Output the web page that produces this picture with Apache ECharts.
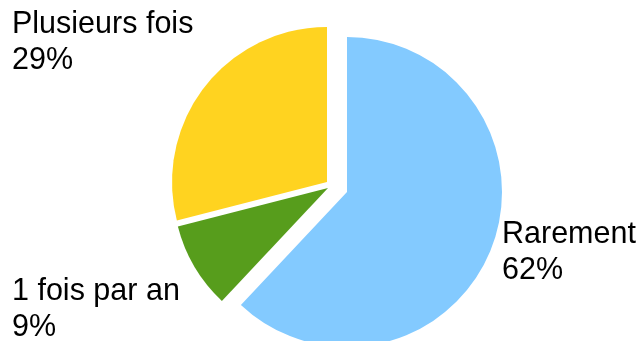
<!DOCTYPE html>
<html>
<head>
<meta charset="utf-8">
<script src="https://cdn.jsdelivr.net/npm/echarts@6/dist/echarts.min.js"></script>
<style>
  html, body { margin: 0; padding: 0; background: #fff; }
  #chart { width: 641px; height: 341px; }
</style>
</head>
<body>
<div id="chart"></div>
<script>
// clockwise from 12 o'clock
const categories = ['Rarement', '1 fois par an', 'Plusieurs fois'];
const values = [62, 9, 29];
const colors = ['#83CAFF', '#579D1C', '#FFD320'];

// each slice is pulled out on its own, so every slice gets its own series
const sliceCenters = [[347, 192], [328, 188], [327, 182]];
const labelPos = [
  { x: 502, y: 253 },
  { x: 12, y: 310 },
  { x: 12, y: 43 }
];

const chart = echarts.init(document.getElementById('chart'));

const series = categories.map((_, k) => ({
  type: 'pie',
  silent: true,
  center: sliceCenters[k],
  radius: 155,
  startAngle: 90,
  clockwise: true,
  avoidLabelOverlap: false,
  animation: false,
  label: {
    position: 'outside',
    formatter: '{b}\n{d}%',
    color: '#000',
    fontFamily: 'Liberation Sans, Arial, sans-serif',
    fontSize: 30.5,
    lineHeight: 36
  },
  labelLine: { show: false },
  labelLayout: () => ({
    x: labelPos[k].x,
    y: labelPos[k].y,
    align: 'left',
    verticalAlign: 'middle'
  }),
  data: categories.map((name, i) => ({
    name,
    value: values[i],
    itemStyle: { color: i === k ? colors[i] : 'rgba(0,0,0,0)' },
    label: { show: i === k }
  }))
}));

chart.setOption({
  backgroundColor: '#fff',
  series
});
</script>
</body>
</html>
